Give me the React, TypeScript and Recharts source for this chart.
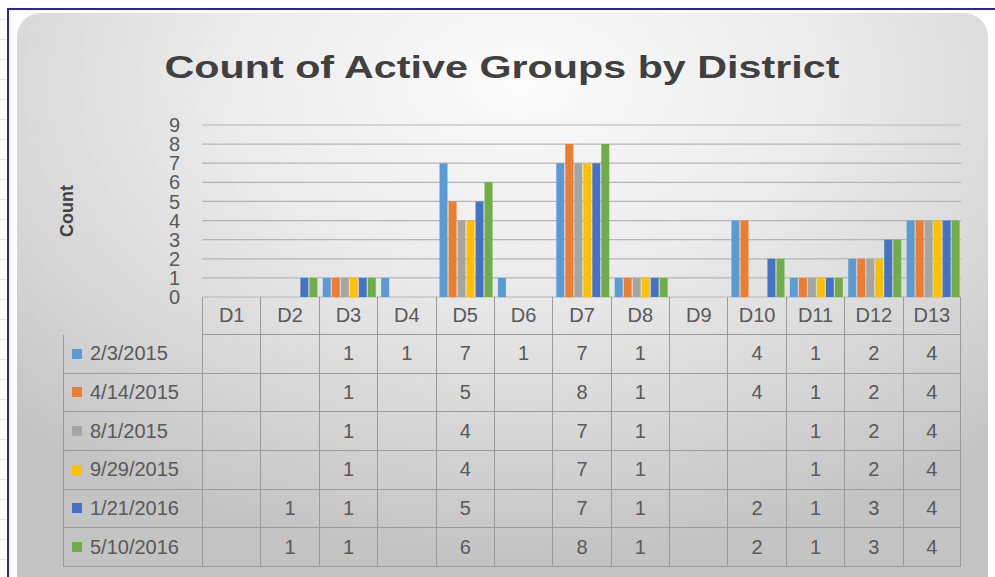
import { Bar, BarChart, CartesianGrid, XAxis, YAxis } from 'recharts';

const districts = ['D1', 'D2', 'D3', 'D4', 'D5', 'D6', 'D7', 'D8', 'D9', 'D10', 'D11', 'D12', 'D13'];
const seriesDates = ['2/3/2015', '4/14/2015', '8/1/2015', '9/29/2015', '1/21/2016', '5/10/2016'];
const seriesColors = ['#5b9bd5', '#ed7d31', '#a5a5a5', '#ffc000', '#4472c4', '#70ad47'];

const feb2015 = [null, null, 1, 1, 7, 1, 7, 1, null, 4, 1, 2, 4];
const apr2015 = [null, null, 1, null, 5, null, 8, 1, null, 4, 1, 2, 4];
const aug2015 = [null, null, 1, null, 4, null, 7, 1, null, null, 1, 2, 4];
const sep2015 = [null, null, 1, null, 4, null, 7, 1, null, null, 1, 2, 4];
const jan2016 = [null, 1, 1, null, 5, null, 7, 1, null, 2, 1, 3, 4];
const may2016 = [null, 1, 1, null, 6, null, 8, 1, null, 2, 1, 3, 4];

const yTicks = [0, 1, 2, 3, 4, 5, 6, 7, 8, 9];

const seriesValues = [feb2015, apr2015, aug2015, sep2015, jan2016, may2016];

const data = districts.map((district, i) => {
  const row: Record<string, string | number | null> = { district };
  seriesValues.forEach((vals, k) => {
    row[`s${k}`] = vals[i];
  });
  return row;
});

const W = 995;
const H = 577;
const plotLeft = 202;
const plotRight = 961;
const plotTop = 125;
const plotBottom = 297;
const colW = (plotRight - plotLeft) / districts.length;
const legendLeft = 63;
const headerH = 38;
const rowH = (567 - plotBottom - headerH) / seriesDates.length;
const font = '"Liberation Sans", Arial, sans-serif';
const textColor = '#595959';
const lineColor = '#9a9a9a';

// the data table under the plot, one column per district
function DataTable() {
  const cells: JSX.Element[] = [];
  districts.forEach((d, i) => {
    cells.push(
      <div
        key={`h${i}`}
        style={{
          position: 'absolute',
          left: plotLeft + i * colW,
          top: plotBottom,
          width: colW,
          height: headerH,
          borderLeft: `1px solid ${lineColor}`,
          borderRight: i === districts.length - 1 ? `1px solid ${lineColor}` : undefined,
          borderBottom: `1px solid ${lineColor}`,
          boxSizing: 'border-box',
          display: 'flex',
          alignItems: 'center',
          justifyContent: 'center',
        }}
      >
        {d}
      </div>
    );
  });
  seriesDates.forEach((label, k) => {
    const top = plotBottom + headerH + k * rowH;
    cells.push(
      <div
        key={`l${k}`}
        style={{
          position: 'absolute',
          left: legendLeft,
          top,
          width: plotLeft - legendLeft,
          height: rowH,
          borderLeft: `1px solid ${lineColor}`,
          borderBottom: `1px solid ${lineColor}`,
          boxSizing: 'border-box',
          display: 'flex',
          alignItems: 'center',
        }}
      >
        <span style={{ width: 10, height: 10, background: seriesColors[k], marginLeft: 8, marginRight: 8 }} />
        {label}
      </div>
    );
    districts.forEach((_, i) => {
      const v = seriesValues[k][i];
      cells.push(
        <div
          key={`c${k}-${i}`}
          style={{
            position: 'absolute',
            left: plotLeft + i * colW,
            top,
            width: colW,
            height: rowH,
            borderLeft: `1px solid ${lineColor}`,
            borderRight: i === districts.length - 1 ? `1px solid ${lineColor}` : undefined,
            borderBottom: `1px solid ${lineColor}`,
            boxSizing: 'border-box',
            display: 'flex',
            alignItems: 'center',
            justifyContent: 'center',
          }}
        >
          {v ?? ''}
        </div>
      );
    });
  });
  return <div style={{ position: 'absolute', left: 0, top: 0, fontFamily: font, fontSize: 20, color: textColor }}>{cells}</div>;
}

export default function App() {
  return (
    <div
      style={{
        position: 'fixed',
        left: 0,
        top: 0,
        width: W,
        height: H,
        overflow: 'hidden',
        background: '#ffffff',
        backgroundImage: 'repeating-linear-gradient(to bottom, transparent 0px, transparent 19px, #e3e3e3 19px, #e3e3e3 20px)',
      }}
    >
      {/* selection frame */}
      <div
        style={{
          position: 'absolute',
          left: 7,
          top: 8,
          width: W,
          height: H,
          borderTop: '2px solid #2424b8',
          borderLeft: '2px solid #2424b8',
          background: '#ffffff',
        }}
      />
      {/* chart area */}
      <div
        style={{
          position: 'absolute',
          left: 17,
          top: 13,
          width: 971,
          height: 585,
          borderRadius: 24,
          background: 'radial-gradient(ellipse 75% 80% at 52% 12%, #fbfbfb 0%, #ececec 40%, #d6d6d6 75%, #c4c4c4 100%)',
        }}
      />
      <svg width={W} height={110} style={{ position: 'absolute', left: 0, top: 0 }}>
        <text
          x={502}
          y={78}
          textAnchor="middle"
          fontFamily={font}
          fontWeight="bold"
          fontSize={31}
          fill="#404040"
          textLength={675}
          lengthAdjust="spacingAndGlyphs"
        >
          Count of Active Groups by District
        </text>
      </svg>
      <BarChart
        width={W}
        height={H}
        data={data}
        margin={{ top: plotTop, right: W - plotRight, bottom: H - plotBottom, left: 0 }}
        barCategoryGap={4}
        barGap={1}
        style={{ position: 'absolute', left: 0, top: 0 }}
      >
        <CartesianGrid vertical={false} stroke="#b5b5b5" strokeWidth={1.2} />
        <XAxis dataKey="district" height={0} tick={false} tickLine={false} axisLine={{ stroke: '#3a3a3a', strokeWidth: 1.5 }} />
        <YAxis
          width={plotLeft}
          domain={[0, 9]}
          ticks={yTicks}
          interval={0}
          axisLine={false}
          tickLine={false}
          tickSize={0}
          tickMargin={22}
          tick={{ fill: textColor, fontSize: 20, fontFamily: font }}
          label={{
            value: 'Count',
            angle: -90,
            position: 'center',
            dx: -34,
            style: { fill: '#404040', fontSize: 18, fontWeight: 'bold', fontFamily: font },
          }}
        />
        {seriesDates.map((name, k) => (
          <Bar key={name} name={name} dataKey={`s${k}`} fill={seriesColors[k]} isAnimationActive={false} />
        ))}
      </BarChart>
      <DataTable />
    </div>
  );
}
